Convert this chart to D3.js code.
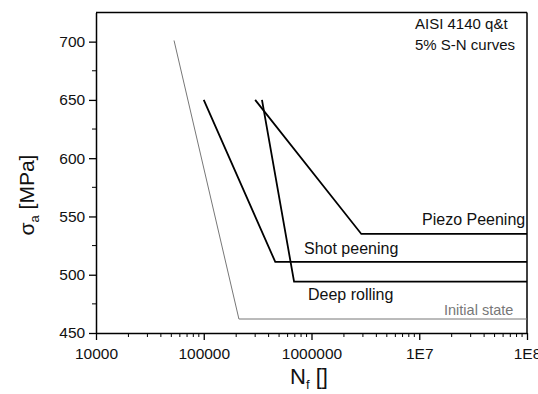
<!DOCTYPE html>
<html>
<head>
<meta charset="utf-8">
<script src="https://cdn.jsdelivr.net/npm/d3@7"></script>
<style>
  body { margin: 0; background: #fff; }
  text { font-family: "Liberation Sans", Arial, sans-serif; }
</style>
</head>
<body>
<figure id="sn" style="margin:0"></figure>
<script>
// S-N curves, AISI 4140 q&t, 5% failure probability
const seriesNames = ["Initial state", "Shot peening", "Deep rolling", "Piezo Peening"];
const cyclesInitial = [53000, 212000, 1e8];
const stressInitial = [701, 462, 462];
const cyclesShot = [100000, 461000, 1e8];
const stressShot = [650, 511, 511];
const cyclesDeep = [347000, 689000, 1e8];
const stressDeep = [650, 494, 494];
const cyclesPiezo = [300000, 2900000, 1e8];
const stressPiezo = [650, 535, 535];
const xTicks = [1e4, 1e5, 1e6, 1e7, 1e8];
const xTickLabels = ["10000", "100000", "1000000", "1E7", "1E8"];
const yTicks = [450, 500, 550, 600, 650, 700];

const width = 538, height = 394;
const margin = {left: 96, right: 11, top: 12.5, bottom: 61};
const w = width - margin.left - margin.right;
const h = height - margin.top - margin.bottom;

const svg = d3.select("figure#sn").append("svg")
  .attr("width", width).attr("height", height);
const g = svg.append("g")
  .attr("transform", "translate(" + margin.left + "," + margin.top + ")");

const x = d3.scaleLog().domain([1e4, 1e8]).range([0, w]);
const y = d3.scaleLinear().domain([450, 725]).range([h, 0]);

// minor ticks
const xMinor = [];
for (let e = 4; e < 8; e++) for (let m = 2; m <= 9; m++) xMinor.push(m * Math.pow(10, e));
const yMinor = d3.range(475, 725, 50);

g.append("g").attr("transform", "translate(0," + h + ")")
  .selectAll("line").data(xMinor).enter().append("line")
  .attr("x1", d => x(d)).attr("x2", d => x(d))
  .attr("y1", 0).attr("y2", 4)
  .attr("stroke", "#000").attr("stroke-width", 1);
g.append("g")
  .selectAll("line").data(yMinor).enter().append("line")
  .attr("x1", -4).attr("x2", 0)
  .attr("y1", d => y(d)).attr("y2", d => y(d))
  .attr("stroke", "#000").attr("stroke-width", 1);

const xAxis = g.append("g").attr("transform", "translate(0," + h + ")")
  .call(d3.axisBottom(x).tickValues(xTicks)
    .tickFormat((d, i) => xTickLabels[i]).tickSize(7).tickSizeOuter(0));
const yAxis = g.append("g")
  .call(d3.axisLeft(y).tickValues(yTicks).tickSize(7).tickSizeOuter(0));
[xAxis, yAxis].forEach(a => {
  a.select(".domain").attr("stroke-width", 1.5);
  a.selectAll(".tick line").attr("stroke-width", 1.3);
  a.selectAll(".tick text").attr("font-size", "15.5px")
    .style("font-family", '"Liberation Sans", Arial, sans-serif').attr("fill", "#111");
});
xAxis.selectAll(".tick text").attr("dy", "1.0em");
yAxis.selectAll(".tick text").attr("dx", "-0.05em");

// frame top and right
g.append("line").attr("x1", 0).attr("x2", w).attr("y1", 0).attr("y2", 0)
  .attr("stroke", "#000").attr("stroke-width", 1.5);
g.append("line").attr("x1", w).attr("x2", w).attr("y1", 0).attr("y2", h)
  .attr("stroke", "#000").attr("stroke-width", 1.5);

const line = d3.line().x(d => x(d[0])).y(d => y(d[1]));
const series = [
  {name: seriesNames[0], n: cyclesInitial, s: stressInitial, color: "#777", sw: 1},
  {name: seriesNames[1], n: cyclesShot, s: stressShot, color: "#000", sw: 1.8},
  {name: seriesNames[2], n: cyclesDeep, s: stressDeep, color: "#000", sw: 1.8},
  {name: seriesNames[3], n: cyclesPiezo, s: stressPiezo, color: "#000", sw: 1.8}
];
g.selectAll(".curve").data(series).enter().append("path")
  .attr("class", "curve")
  .attr("d", d => line(d.n.map((v, i) => [v, d.s[i]])))
  .attr("fill", "none")
  .attr("stroke", d => d.color)
  .attr("stroke-width", d => d.sw);

// curve labels
const labels = [
  {t: seriesNames[3], x: 326, y: 212, size: 16, fill: "#111"},
  {t: seriesNames[1], x: 208, y: 241.5, size: 16, fill: "#111"},
  {t: seriesNames[2], x: 212, y: 287, size: 16, fill: "#111"},
  {t: seriesNames[0], x: 348, y: 302, size: 14.5, fill: "#777"}
];
g.selectAll(".lab").data(labels).enter().append("text")
  .attr("x", d => d.x).attr("y", d => d.y)
  .attr("font-size", d => d.size + "px").attr("fill", d => d.fill)
  .text(d => d.t);

g.append("text").attr("x", 319).attr("y", 16).attr("font-size", "15px")
  .attr("fill", "#111").text("AISI 4140 q&t");
g.append("text").attr("x", 319).attr("y", 37).attr("font-size", "15px")
  .attr("fill", "#111").text("5% S-N curves");

// axis titles
const xt = svg.append("text").attr("x", 290).attr("y", 384)
  .attr("font-size", "22px").attr("fill", "#111");
xt.append("tspan").text("N");
xt.append("tspan").attr("font-size", "13px").attr("dy", 5).text("f");
xt.append("tspan").attr("dy", -5).text(" []");

const yt = svg.append("text")
  .attr("transform", "translate(34,195) rotate(-90)")
  .attr("text-anchor", "middle")
  .attr("font-size", "21px").attr("fill", "#111");
yt.append("tspan").text("σ");
yt.append("tspan").attr("font-size", "13px").attr("dy", 5).text("a");
yt.append("tspan").attr("dy", -5).text(" [MPa]");
</script>
</body>
</html>
